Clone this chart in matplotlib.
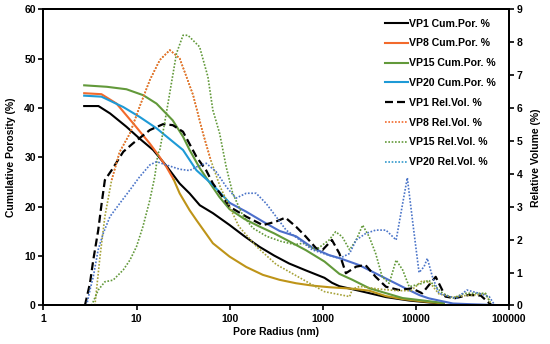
import numpy as np
import matplotlib
matplotlib.use("Agg")
import matplotlib.pyplot as plt
from matplotlib.lines import Line2D

plt.rcParams["font.family"] = ["Liberation Sans", "DejaVu Sans"]
plt.rcParams["font.weight"] = "bold"

# ── data (pore radius in nm, values in %) ───────────────────────────────────
vp1_cum_r = [2.74, 3.9, 5.2, 7.8, 10.8, 15.1, 20.9, 29.1, 37.2, 47.9, 66.2, 100, 145, 209, 302,
             437, 661, 1047, 1259, 1514, 2089, 3162, 4786, 8511, 14125, 19953]
vp1_cum = [40.4, 40.4, 38.9, 36.2, 33.8, 31.5, 28.3, 24.7, 22.7, 20.3, 18.7, 16.3, 14.0, 11.9, 10.1,
           8.5, 7.1, 5.6, 4.6, 3.9, 3.3, 2.5, 1.7, 1.0, 0.6, 0.4]

vp8_cum_r = [2.74, 4.2, 6.1, 9.2, 13.9, 17.1, 20.9, 25.1, 29.1, 37.2, 44.0, 66.2, 100, 151, 228,
             344, 519, 794, 1175, 2089, 3162, 4786, 7244, 10965, 19953]
vp8_cum = [43.0, 42.8, 40.9, 36.9, 32.8, 30.5, 28.1, 25.5, 22.7, 19.3, 17.3, 12.6, 9.9, 7.8, 6.2,
           5.2, 4.5, 4.0, 3.7, 3.4, 3.0, 1.9, 1.3, 0.9, 0.4]

vp15_cum_r = [2.74, 4.8, 7.8, 11.8, 16.4, 24.5, 31.6, 37.2, 47.9, 77.6, 100, 145, 209, 302,
              437, 661, 1047, 1514, 2089, 3162, 4786, 7244, 10965, 19953]
vp15_cum = [44.6, 44.3, 43.8, 42.6, 40.9, 37.5, 34.2, 31.5, 27.8, 22.0, 19.5, 17.5, 16.0, 14.6,
            13.0, 11.2, 8.9, 6.4, 5.2, 3.5, 2.5, 1.5, 1.1, 0.5]

vp20_cum_r = [2.74, 4.2, 7.2, 10.8, 16.4, 24.5, 31.6, 44.0, 66.2, 100, 151, 228, 344, 519,
              794, 1175, 1514, 2455, 3715, 5623, 8511, 10965, 13804, 25119, 39811, 70795]
vp20_cum = [42.5, 42.3, 40.2, 38.2, 35.9, 33.2, 31.5, 27.4, 24.4, 20.8, 19.0, 17.0, 15.1, 14.0,
            11.6, 10.2, 9.6, 8.2, 6.5, 4.8, 3.1, 2.1, 1.45, 0.4, 0.25, 0.1]

vp1_rel_r = [2.79, 3.16, 3.43, 3.88, 4.22, 4.57, 5.4, 7.2, 9.2, 13.9, 19.3, 24.5, 31.6, 44.0,
             56.2, 66.1, 100, 151, 228, 316, 398, 519, 661, 851, 1000, 1259, 1514, 1778,
             2291, 2884, 3715, 4786, 6607, 9120, 11749, 16406, 20893, 26303, 37154, 50119,
             58884, 66069]
vp1_rel = [0.0, 0.67, 1.38, 2.29, 3.1, 3.81, 4.11, 4.67, 4.93, 5.33, 5.51, 5.48, 5.28, 4.52,
           4.1, 3.71, 3.0, 2.7, 2.44, 2.55, 2.67, 2.39, 2.09, 1.74, 1.69, 1.99, 1.58, 0.98,
           1.18, 1.23, 0.87, 0.57, 0.47, 0.52, 0.37, 0.87, 0.27, 0.22, 0.32, 0.3, 0.12, 0.0]

vp8_rel_r = [3.57, 4.05, 4.57, 5.4, 6.6, 8.5, 10.8, 13.9, 17.8, 22.8, 29.1, 34.4, 40.5, 51.8,
             63.1, 79.4, 100, 126, 195, 316, 562, 1047, 1950, 2089, 2512, 3981, 6310, 8913,
             11749, 14125, 17783, 25119, 33884, 56234, 66069]
vp8_rel = [0.0, 1.48, 2.7, 3.81, 4.67, 5.23, 6.04, 6.85, 7.46, 7.76, 7.51, 6.95, 6.4, 5.23,
           4.4, 3.6, 3.0, 2.4, 1.79, 1.25, 0.85, 0.42, 0.27, 0.5, 0.58, 0.5, 0.45, 0.45, 0.75,
           0.7, 0.35, 0.25, 0.3, 0.35, 0.0]

vp15_rel_r = [3.29, 3.88, 4.57, 5.6, 7.2, 8.5, 10.0, 11.7, 13.9, 15.7, 17.0, 17.8, 20.9, 23.7,
              26.9, 31.6, 35.7, 47.6, 58.5, 66.1, 78.2, 92.0, 108, 138, 178, 251, 355, 501,
              617, 851, 1175, 1380, 1622, 1950, 2291, 2692, 3162, 3715, 4365, 5188, 6166,
              7244, 8511, 11749, 13804, 19498, 25119, 33113, 56234, 63096]
vp15_rel = [0.0, 0.47, 0.72, 0.77, 1.08, 1.38, 1.79, 2.39, 3.2, 3.91, 4.62, 4.72, 5.84, 6.75,
            7.66, 8.21, 8.21, 7.86, 6.95, 5.94, 5.23, 4.21, 3.41, 2.75, 2.35, 2.1, 1.95, 1.85,
            1.89, 1.69, 1.99, 2.24, 2.09, 1.69, 1.99, 2.44, 2.09, 1.58, 0.87, 0.67, 1.38,
            1.08, 0.57, 0.67, 0.77, 0.37, 0.22, 0.37, 0.37, 0.1]

vp20_rel_r = [2.91, 3.16, 3.43, 3.87, 4.39, 5.18, 6.6, 8.5, 10.8, 13.9, 16.4, 20.9, 29.1, 37.2,
              44.0, 56.2, 71.9, 92.0, 117, 151, 193, 247, 316, 405, 562, 776, 1096, 1514,
              1950, 2291, 2917, 3715, 4786, 6166, 7244, 8128, 9226, 10864, 12303, 13335,
              15136, 17783, 22909, 27542, 35481, 47863, 61660, 69183]
vp20_rel = [0.0, 0.47, 0.87, 1.69, 2.19, 2.7, 3.1, 3.51, 3.91, 4.27, 4.37, 4.27, 4.14, 4.1,
            4.21, 4.32, 4.06, 3.61, 3.26, 3.41, 3.41, 3.1, 2.7, 2.29, 2.0, 1.69, 1.55, 1.43,
            1.58, 1.99, 2.19, 2.29, 2.29, 1.99, 3.1, 3.88, 2.6, 1.0, 1.18, 1.43, 0.87, 0.37,
            0.27, 0.22, 0.47, 0.37, 0.27, 0.05]

x_ticks = [1, 10, 100, 1000, 10000, 100000]
x_ticklabels = ["1", "10", "100", "1000", "10000", "100000"]

labels = ["VP1 Cum.Por. %", "VP8 Cum.Por. %", "VP15 Cum.Por. %", "VP20 Cum.Por. %",
          "VP1 Rel.Vol. %", "VP8 Rel.Vol. %", "VP15 Rel.Vol. %", "VP20 Rel.Vol. %"]

# ── colours / styles ─────────────────────────────────────────────────────────
C_BLACK = "#000000"
C_ORANGE = "#F26A2C"
C_GOLD = "#BE9418"
C_GREEN = "#62993A"
C_BLUE = "#1E9AD6"
C_BLUE2 = "#4C6ECB"
C_DOT_BLUE = "#4A74C8"
C_DOT_OLIVE = "#A6A238"

DOT = (0, (1.0, 1.0))
DASH = (0, (3.6, 1.8))


def split(r, v, cut):
    r = np.asarray(r, float)
    v = np.asarray(v, float)
    i = np.searchsorted(r, cut)
    return (r[:i + 1], v[:i + 1]), (r[i:], v[i:])


fig = plt.figure(figsize=(5.5, 3.44), dpi=100)
ax = fig.add_axes([0.079, 0.112, 0.846, 0.861])
ax2 = ax.twinx()

# cumulative porosity (left axis)
ax.plot(vp1_cum_r, vp1_cum, color=C_BLACK, lw=1.5)
a, b = split(vp8_cum_r, vp8_cum, 22)
ax.plot(*a, color=C_ORANGE, lw=1.5)
ax.plot(*b, color=C_GOLD, lw=1.5)
ax.plot(vp15_cum_r, vp15_cum, color=C_GREEN, lw=1.5)
a, b = split(vp20_cum_r, vp20_cum, 80)
ax.plot(*a, color=C_BLUE, lw=1.5)
ax.plot(*b, color=C_BLUE2, lw=1.5)

# relative volume (right axis)
ax2.plot(vp1_rel_r, vp1_rel, color=C_BLACK, lw=1.6, ls=DASH)
r8 = np.asarray(vp8_rel_r, float)
v8 = np.asarray(vp8_rel, float)
ax2.plot(r8, v8, color=C_DOT_OLIVE, lw=1.2, ls=DOT)
m = (r8 >= 5.0) & (r8 <= 70)
ax2.plot(r8[m], v8[m], color=C_ORANGE, lw=1.2, ls=DOT)
ax2.plot(vp15_rel_r, vp15_rel, color=C_GREEN, lw=1.2, ls=DOT)
ax2.plot(vp20_rel_r, vp20_rel, color=C_DOT_BLUE, lw=1.2, ls=DOT)

# axes
ax.set_xscale("log")
ax.set_xlim(1, 100000)
ax.set_ylim(0, 60)
ax2.set_ylim(0, 9)
ax.set_xticks(x_ticks)
ax.set_xticklabels(x_ticklabels)
ax.xaxis.set_minor_locator(matplotlib.ticker.NullLocator())
ax.set_yticks(range(0, 61, 10))
ax2.set_yticks(range(0, 10))

for a_ in (ax, ax2):
    for s in a_.spines.values():
        s.set_linewidth(1.4)
    a_.tick_params(direction="out", length=3.5, width=1.2, labelsize=7.5, pad=2)
ax.tick_params(axis="x", pad=3)

ax.set_xlabel("Pore Radius (nm)", fontsize=7.5, fontweight="bold", labelpad=2)
ax.set_ylabel("Cumulative Porosity (%)", fontsize=7.5, fontweight="bold", labelpad=6)
ax2.set_ylabel("Relative Volume (%)", fontsize=7.5, fontweight="bold", labelpad=6)

# legend
handles = [
    Line2D([], [], color=C_BLACK, lw=1.5),
    Line2D([], [], color=C_ORANGE, lw=1.5),
    Line2D([], [], color=C_GREEN, lw=1.5),
    Line2D([], [], color=C_BLUE, lw=1.5),
    Line2D([], [], color=C_BLACK, lw=1.6, ls=DASH),
    Line2D([], [], color=C_ORANGE, lw=1.2, ls=DOT),
    Line2D([], [], color=C_GREEN, lw=1.2, ls=DOT),
    Line2D([], [], color="#3399CC", lw=1.2, ls=DOT),
]
ax2.legend(handles, labels, loc="upper right", bbox_to_anchor=(0.985, 0.99), frameon=False,
           handlelength=2.1, handletextpad=0.1, labelspacing=0.93, borderaxespad=0.2,
           prop={"weight": "bold", "size": 7.6})

fig.savefig("out.png", dpi=100)
